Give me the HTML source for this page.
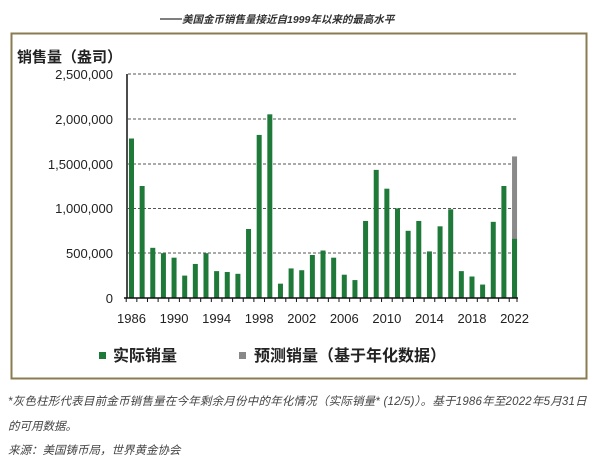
<!DOCTYPE html>
<html><head><meta charset="utf-8"><style>
html,body{margin:0;padding:0;background:#fff;width:600px;height:465px;overflow:hidden}
svg{display:block}
</style></head><body>
<svg width="600" height="465" viewBox="0 0 600 465" xmlns="http://www.w3.org/2000/svg" font-family="Liberation Sans, Noto Sans CJK SC, sans-serif">
<line x1="160" y1="19" x2="182" y2="19" stroke="#333" stroke-width="1.2"/>
<text x="182" y="23" font-size="10.5" font-weight="bold" font-style="italic" fill="#333">美国金币销售量接近自1999年以来的最高水平</text>
<rect x="11.5" y="33.5" width="575" height="345" fill="#fff" stroke="#8a7c50" stroke-width="2"/>
<text x="17" y="62" font-size="15" font-weight="bold" fill="#222">销售量（盎司）</text>
<g stroke="#555" stroke-width="1" stroke-dasharray="3,2">
<line x1="128" y1="74" x2="518" y2="74"/><line x1="128" y1="119" x2="518" y2="119"/><line x1="128" y1="164" x2="518" y2="164"/><line x1="128" y1="208.5" x2="518" y2="208.5"/><line x1="128" y1="253" x2="518" y2="253"/>
</g>
<g font-size="13" fill="#222" text-anchor="end">
<text x="113" y="79">2,500,000</text><text x="113" y="124">2,000,000</text><text x="113" y="169">1,5000,000</text><text x="113" y="213">1,000,000</text><text x="113" y="258">500,000</text><text x="113" y="303">0</text>
</g>
<g id="bars"></g>
<line x1="127" y1="74" x2="127" y2="298" stroke="#111" stroke-width="1.5"/>
<line x1="124" y1="298" x2="518" y2="298" stroke="#111" stroke-width="1.5"/>
<g stroke="#111" stroke-width="1" id="ticks"></g>
<g font-size="13" fill="#222" text-anchor="middle" id="xl"></g>
<rect x="99" y="352" width="7" height="7" fill="#1f7a3a"/>
<text x="113" y="361" font-size="16" font-weight="bold" fill="#222">实际销量</text>
<rect x="239" y="352" width="7" height="7" fill="#888"/>
<text x="254" y="361" font-size="16" font-weight="bold" fill="#222">预测销量（基于年化数据）</text>
<text x="8" y="405" font-size="11.5" font-style="italic" fill="#444" letter-spacing="0.2">*灰色柱形代表目前金币销售量在今年剩余月份中的年化情况（实际销量* (12/5)）。基于1986年至2022年5月31日</text>
<text x="8" y="430" font-size="11.5" font-style="italic" fill="#444">的可用数据。</text>
<text x="8" y="454" font-size="11.5" font-style="italic" fill="#444">来源：美国铸币局，世界黄金协会</text>
<script>
var v=[1.78,1.25,.56,.5,.45,.25,.38,.5,.3,.29,.27,.77,1.82,2.05,.16,.33,.31,.48,.53,.45,.26,.2,.86,1.43,1.22,1.0,.75,.86,.52,.8,.99,.3,.24,.15,.85,1.25,.66];
var ns="http://www.w3.org/2000/svg",b=document.getElementById('bars'),t=document.getElementById('ticks'),xl=document.getElementById('xl');
function el(n,a,p){var e=document.createElementNS(ns,n);for(var k in a)e.setAttribute(k,a[k]);p.appendChild(e);return e;}
for(var i=0;i<37;i++){var x=131.5+i*10.64;var h=v[i]*89.6;
if(i==36){el('rect',{x:x-2.5,y:298-1.58*89.6,width:5,height:1.58*89.6,fill:'#8a8a8a'},b);}
el('rect',{x:x-2.5,y:298-h,width:5,height:h,fill:'#1f7a3a'},b);
el('line',{x1:x-5.3,y1:298,x2:x-5.3,y2:302},t);
if(i%4==0){var s=el('text',{x:x,y:323},xl);s.textContent=1986+i;}}
el('line',{x1:517,y1:298,x2:517,y2:302},t);
</script>
</svg>
</body></html>
